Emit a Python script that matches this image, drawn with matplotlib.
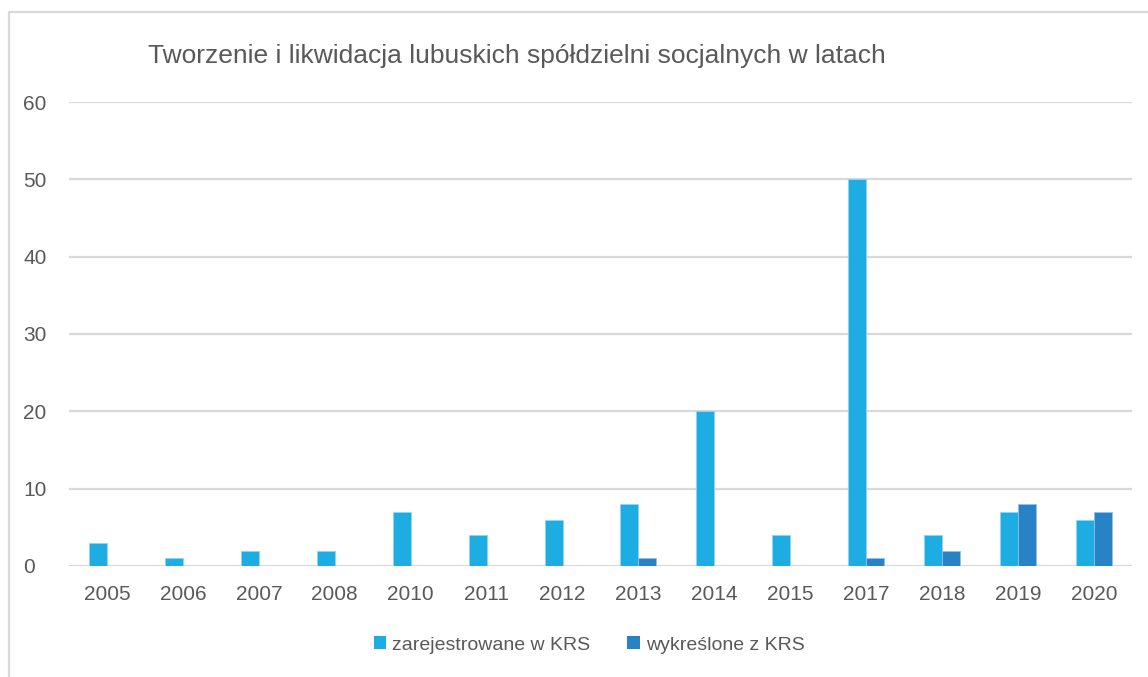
import matplotlib
matplotlib.use("Agg")
import matplotlib.pyplot as plt
from matplotlib.lines import Line2D
from matplotlib.patches import Patch
import numpy as np

# data
years = ["2005", "2006", "2007", "2008", "2010", "2011", "2012",
         "2013", "2014", "2015", "2017", "2018", "2019", "2020"]
registered = [3, 1, 2, 2, 7, 4, 6, 8, 20, 4, 50, 4, 7, 6]
removed = [0, 0, 0, 0, 0, 0, 0, 1, 0, 0, 1, 2, 8, 7]

labels = ["zarejestrowane w KRS", "wykreślone z KRS"]
title = "Tworzenie i likwidacja lubuskich spółdzielni socjalnych w latach"

c_light = "#1EADE3"
c_dark = "#2782C6"
c_text = "#595959"
c_grid = "#D9D9D9"

plt.rcParams["font.family"] = ["Liberation Sans Narrow", "Liberation Sans", "DejaVu Sans"]

fig = plt.figure(figsize=(11.48, 6.77), dpi=100)
ax = fig.add_axes([0.0601, 0.1640, 0.9260, 0.6853])

x = np.arange(len(years))
w = 0.237
ax.bar(x - w / 2, registered, w, color=c_light, edgecolor="#8FD6F1", linewidth=0.6, zorder=3)
ax.bar(x + w / 2, removed, w, color=c_dark, edgecolor="#93C0E3", linewidth=0.6, zorder=3)

ax.set_xlim(-0.5, len(years) - 0.5)
ax.set_ylim(0, 60)
ax.set_yticks(range(0, 61, 10))
ax.set_xticks(x)
ax.set_xticklabels(years)
ax.yaxis.grid(True, color=c_grid, linewidth=1.6, zorder=0)
ax.set_axisbelow(True)
for s in ax.spines.values():
    s.set_visible(False)
ax.tick_params(axis="both", length=0, labelsize=15, colors=c_text)
ax.tick_params(axis="x", pad=14)
ax.tick_params(axis="y", pad=33)
for lbl in ax.get_yticklabels():
    lbl.set_horizontalalignment("left")

fig.text(148 / 1148, 1 - 56 / 677, title, ha="left", va="center",
         fontsize=19, color=c_text)

handles = [Patch(facecolor=c_light, edgecolor="none"),
           Patch(facecolor=c_dark, edgecolor="none")]
fig.legend(handles, labels, loc="center", bbox_to_anchor=(589 / 1148, 1 - 645 / 677),
           ncol=2, frameon=False, fontsize=14, labelcolor=c_text,
           handlelength=0.65, handleheight=0.65, handletextpad=0.3, columnspacing=1.9)

# chart border (only top and left edges are visible in the crop)
fig.add_artist(Line2D([9 / 1148, 9 / 1148, 1], [0, 1 - 12 / 677, 1 - 12 / 677],
                      transform=fig.transFigure, color="#D9D9D9", linewidth=1.6))

fig.savefig("out.png", dpi=100)
